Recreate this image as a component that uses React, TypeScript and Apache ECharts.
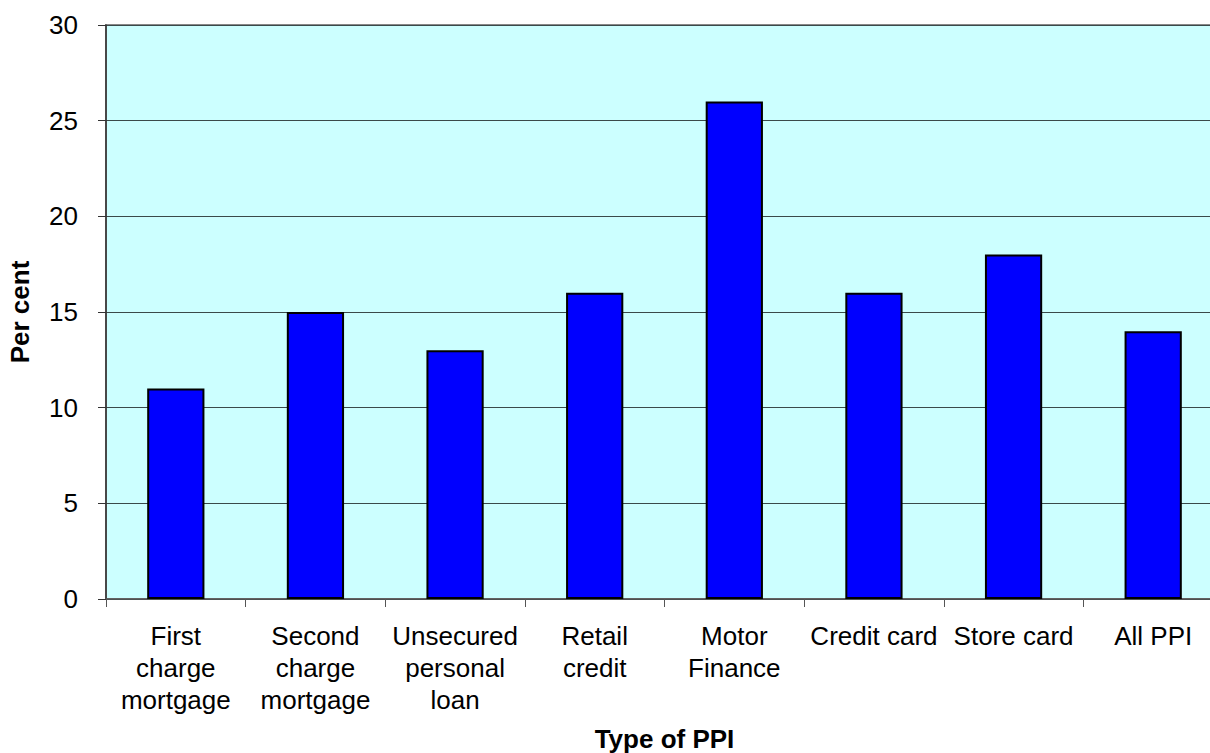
import React, { useEffect, useRef } from "react";
import * as echarts from "echarts";

const categories = [
  "First\ncharge\nmortgage",
  "Second\ncharge\nmortgage",
  "Unsecured\npersonal\nloan",
  "Retail\ncredit",
  "Motor\nFinance",
  "Credit card",
  "Store card",
  "All PPI",
];
const perCent = [11, 15, 13, 16, 26, 16, 18, 14];
const yTicks = { min: 0, max: 30, interval: 5 };

export default function App() {
  const ref = useRef<HTMLDivElement>(null);

  useEffect(() => {
    if (!ref.current) return;
    const chart = echarts.init(ref.current, undefined, { renderer: "svg" });
    const font = "Arial, 'Liberation Sans', sans-serif";
    chart.setOption({
      animation: false,
      backgroundColor: "#ffffff",
      grid: {
        left: 106,
        right: 7,
        top: 25,
        bottom: 154,
        outerBoundsMode: "none",
        containLabel: false,
        show: true,
        backgroundColor: "#CCFFFF",
        borderColor: "#888888",
        borderWidth: 2,
      },
      xAxis: {
        type: "category",
        data: categories,
        name: "Type of PPI",
        nameLocation: "middle",
        nameGap: 127,
        nameTextStyle: { fontFamily: font, fontSize: 26, fontWeight: "bold", color: "#000" },
        axisLine: { lineStyle: { color: "#555555", width: 1.5 } },
        axisTick: { show: true, length: 8, alignWithLabel: false, lineStyle: { color: "#555555" } },
        axisLabel: {
          fontFamily: font,
          fontSize: 26,
          color: "#000",
          lineHeight: 32,
          margin: 21,
          interval: 0,
        },
      },
      yAxis: {
        type: "value",
        min: yTicks.min,
        max: yTicks.max,
        interval: yTicks.interval,
        name: "Per cent",
        nameLocation: "middle",
        nameGap: 73,
        nameTextStyle: { fontFamily: font, fontSize: 26, fontWeight: "bold", color: "#000" },
        axisLine: { show: true, lineStyle: { color: "#333333", width: 1.5 } },
        axisTick: { show: true, length: 8, lineStyle: { color: "#333333" } },
        axisLabel: { fontFamily: font, fontSize: 26, color: "#000", margin: 28 },
        splitLine: { show: true, lineStyle: { color: "#3a4a4a", width: 1 } },
      },
      series: [
        {
          type: "bar",
          data: perCent,
          barWidth: "41%",
          itemStyle: { color: "#0000FF", borderColor: "#000000", borderWidth: 2 },
        },
      ],
    });
    return () => chart.dispose();
  }, []);

  return (
    <div
      style={{
        position: "absolute",
        left: 0,
        top: 0,
        width: 1210,
        height: 753,
        overflow: "hidden",
        background: "#ffffff",
      }}
    >
      <div ref={ref} style={{ width: 1230, height: 753 }} />
    </div>
  );
}
